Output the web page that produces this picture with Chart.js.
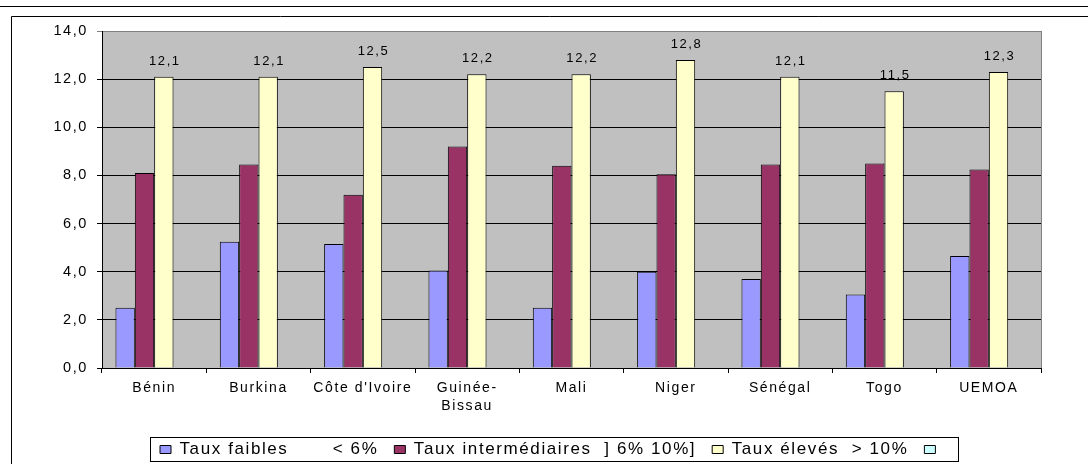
<!DOCTYPE html>
<html>
<head>
<meta charset="utf-8">
<script src="https://cdn.jsdelivr.net/npm/chart.js@4/dist/chart.umd.min.js"></script>
<style>
  html, body { margin: 0; padding: 0; background: #fff; }
  canvas { display: block; }
</style>
</head>
<body>
<canvas id="chart" width="1088" height="464"></canvas>
<script>
// Categories (pays de l'UEMOA)
const categories = ['Bénin', 'Burkina', "Côte d'Ivoire", ['Guinée-', 'Bissau'], 'Mali', 'Niger', 'Sénégal', 'Togo', 'UEMOA'];

// Series values
const tauxFaibles        = [2.5, 5.25, 5.15, 4.05, 2.5, 4.0, 3.7, 3.05, 4.65];
const tauxIntermediaires = [8.1, 8.45, 7.2, 9.2, 8.4, 8.05, 8.45, 8.5, 8.25];
const tauxEleves         = [12.1, 12.1, 12.5, 12.2, 12.2, 12.8, 12.1, 11.5, 12.3];
const serieVide          = [null, null, null, null, null, null, null, null, null];

// Legend labels
const seriesLabels = ['Taux faibles       < 6%', 'Taux intermédiaires  ] 6% 10%]', 'Taux élevés  > 10%', ''];

// Value axis
const yMin = 0, yMax = 14, yStep = 2;

const FONT = "'Liberation Sans', Arial, sans-serif";
const SPACING = '1.6px';
const fmt = v => v.toFixed(1).replace('.', ',');

// Wide letter spacing for every text on the canvas
const spacingPlugin = {
  id: 'spacing',
  beforeUpdate(chart) { chart.ctx.letterSpacing = SPACING; },
  beforeDraw(chart) { chart.ctx.letterSpacing = SPACING; }
};

// Outer frame, rule line and grey plot background
const framePlugin = {
  id: 'frame',
  beforeDraw(chart) {
    const { ctx, chartArea: a, width, height } = chart;
    ctx.save();
    ctx.fillStyle = '#fff';
    ctx.fillRect(0, 0, width, height);
    ctx.strokeStyle = '#000';
    ctx.lineWidth = 1;
    ctx.beginPath();
    ctx.moveTo(0, 6.5); ctx.lineTo(width, 6.5);
    ctx.stroke();
    ctx.beginPath();
    ctx.moveTo(11.5, height); ctx.lineTo(11.5, 16.5); ctx.lineTo(width, 16.5);
    ctx.stroke();
    ctx.fillStyle = '#C0C0C0';
    ctx.fillRect(a.left, a.top, a.right - a.left, a.bottom - a.top);
    ctx.strokeStyle = '#808080';
    ctx.beginPath();
    ctx.moveTo(a.right + 0.5, a.top); ctx.lineTo(a.right + 0.5, a.bottom);
    ctx.stroke();
    ctx.restore();
  },
  afterLayout(chart) {
    // place the legend row under the axis labels
    const lg = chart.legend;
    const P = lg.options.labels.padding;
    const fs = lg.options.labels.font.size;
    lg.top = Math.round(449 - P - fs / 2);
    lg.bottom = lg.top + lg.height;
    lg.left = 160 - P;
    lg.right = chart.width;
  },
  afterDraw(chart) {
    // legend border
    const { ctx } = chart;
    const hb = chart.legend.legendHitBoxes;
    if (!hb || !hb.length) return;
    const first = hb[0], last = hb[hb.length - 1];
    const cy = first.top + first.height / 2;
    const x0 = Math.round(first.left - 10) + 0.5;
    const x1 = Math.round(last.left + 34) + 0.5;
    const y0 = Math.round(cy - 13) + 0.5;
    const y1 = Math.round(cy + 11) + 0.5;
    ctx.save();
    ctx.strokeStyle = '#000';
    ctx.lineWidth = 1;
    ctx.strokeRect(x0, y0, x1 - x0, y1 - y0);
    ctx.restore();
  }
};

// Value labels above the "Taux élevés" bars
const valueLabels = {
  id: 'valueLabels',
  afterDatasetsDraw(chart) {
    const { ctx } = chart;
    const meta = chart.getDatasetMeta(2);
    ctx.save();
    ctx.letterSpacing = SPACING;
    ctx.font = '13px ' + FONT;
    ctx.fillStyle = '#000';
    ctx.textAlign = 'center';
    ctx.textBaseline = 'alphabetic';
    meta.data.forEach((bar, i) => {
      const v = chart.data.datasets[2].data[i];
      if (v == null) return;
      ctx.fillText(fmt(v), bar.x + 1, bar.y - 12);
    });
    ctx.restore();
  }
};

const colors = ['#9999FF', '#993366', '#FFFFCC', '#CCFFFF'];
const series = [tauxFaibles, tauxIntermediaires, tauxEleves, serieVide];

new Chart(document.getElementById('chart'), {
  type: 'bar',
  data: {
    labels: categories,
    datasets: series.map((d, i) => ({
      label: seriesLabels[i],
      data: d,
      backgroundColor: colors[i],
      borderColor: '#000',
      borderWidth: 1,
      categoryPercentage: 0.742,
      barPercentage: 1.0
    }))
  },
  options: {
    responsive: false,
    animation: false,
    devicePixelRatio: 1,
    layout: { padding: { left: 0, top: 31, right: 47, bottom: 0 } },
    plugins: {
      tooltip: { enabled: false },
      legend: {
        position: 'bottom',
        align: 'start',
        labels: {
          font: { family: FONT, size: 17 },
          color: '#000',
          boxWidth: 11,
          boxHeight: 8,
          padding: 16
        }
      }
    },
    scales: {
      x: {
        grid: { drawOnChartArea: false, drawTicks: true, tickLength: 5, color: '#000', offset: true },
        border: { color: '#000', width: 1 },
        ticks: {
          font: { family: FONT, size: 14, lineHeight: 1.3 },
          color: '#000',
          padding: 6,
          autoSkip: false,
          maxRotation: 0
        },
        afterFit(s) { s.height = s.chart.height - 368 - s.chart.legend.height; }
      },
      y: {
        min: yMin,
        max: yMax,
        ticks: {
          stepSize: yStep,
          font: { family: FONT, size: 14.5 },
          color: '#000',
          padding: 9,
          callback: v => fmt(v)
        },
        grid: {
          color: c => (c.tick && c.tick.value === yMax ? '#808080' : '#000'),
          tickLength: 5,
          lineWidth: 1
        },
        border: { color: '#000', width: 1 },
        afterFit(s) { s.width = 102; }
      }
    }
  },
  plugins: [spacingPlugin, framePlugin, valueLabels]
});
</script>
</body>
</html>
